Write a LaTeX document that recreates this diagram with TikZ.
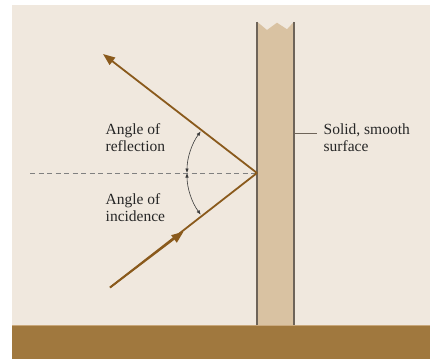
\documentclass[tikz,border=0pt]{standalone}
\usepackage{fontspec}
\setmainfont{Liberation Serif}
\usetikzlibrary{arrows.meta,decorations.markings}
\definecolor{bgc}{HTML}{F0E8DE}
\definecolor{wallc}{HTML}{D9C2A2}
\definecolor{walledge}{HTML}{6E6459}
\definecolor{rayc}{HTML}{8A5A1C}
\definecolor{groundc}{HTML}{A0783E}
\definecolor{groundtop}{HTML}{C9A77A}
\definecolor{arcc}{HTML}{3A3A3A}
\begin{document}
\begin{tikzpicture}[x=1pt,y=1pt,
  ray/.style={draw=rayc, line width=1.8pt},
  rayhead/.style={-{Triangle[length=12pt,width=9pt]}},
  anglearc/.style={draw=arcc, line width=0.6pt, {Latex[length=4.5pt,width=3.5pt]}-{Latex[length=4.5pt,width=3.5pt]}},
  lbl/.style={font=\fontsize{15.5}{17}\selectfont, text=black!85, align=left, inner sep=0pt, anchor=north west}]
\useasboundingbox (0,0) rectangle (430,360);
% background and ground
\fill[bgc] (12,35) rectangle (430,355);
\fill[groundc] (12,1) rectangle (430,35);
\draw[groundtop, line width=1pt] (12,35) -- (430,35);
% wall
\fill[wallc] (257,35) -- (257,338.3) -- (267,330) -- (277,337.3) -- (287,330.7) -- (294,338.3) -- (294,35) -- cycle;
\draw[walledge, line width=1.4pt] (257,35) -- (257,338.3);
\draw[walledge, line width=1.4pt] (294,35) -- (294,338.3);
% points
\coordinate (P) at (257,187);
\coordinate (R) at (103,306);
\coordinate (I) at (110,72.5);
\coordinate (Imid) at (183.5,128.3);
\coordinate (D) at (30,187);
% normal
\draw[gray, dashed, dash pattern=on 5pt off 3.5pt, line width=0.7pt] (D) -- (P);
% rays
\draw[ray, rayhead] (P) -- (R);
\draw[ray] (I) -- (P);
\draw[ray, rayhead] (I) -- (Imid);
% angle arcs
\draw[anglearc] ([shift={(180:70)}]P) arc[start angle=180, end angle=143.5, radius=70];
\draw[anglearc] ([shift={(180:70)}]P) arc[start angle=180, end angle=216.5, radius=70];
% labels
\node[lbl] (refl) at (105.5,236.5) {Angle of\\reflection};
\node[lbl] (inc) at (105.5,166.5) {Angle of\\incidence};
\node[lbl] (surf) at (323.5,236.5) {Solid, smooth\\surface};
\coordinate (leadstart) at (295,227);
\coordinate (leadend) at (317,227);
\draw[walledge, line width=0.8pt] (leadstart) -- (leadend);
\end{tikzpicture}
\end{document}
